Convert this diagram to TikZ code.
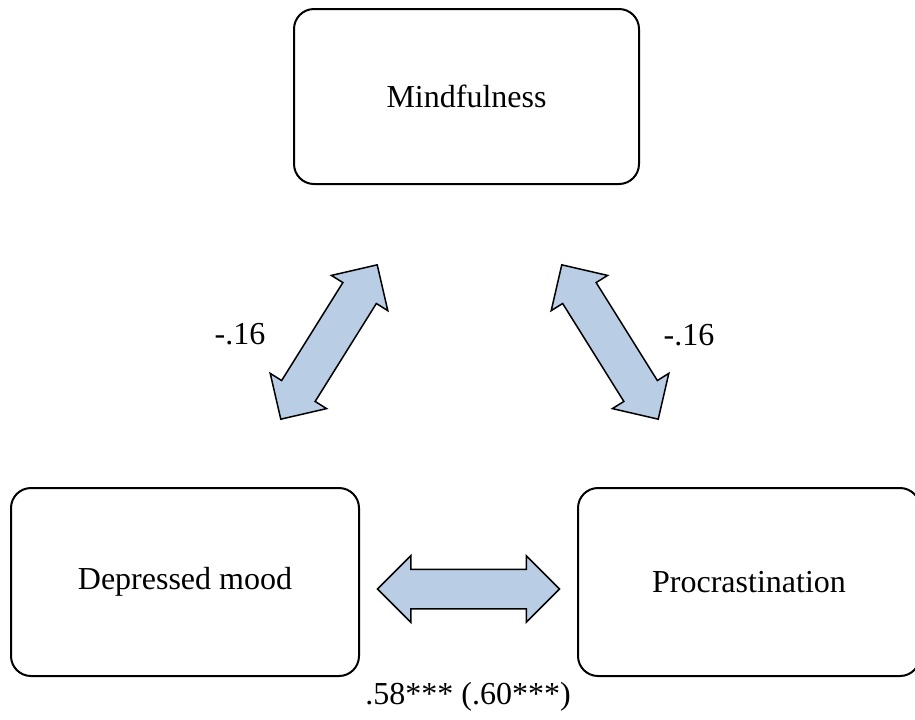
\documentclass[tikz,border=0pt]{standalone}
\usepackage{fontspec}
\setmainfont{Liberation Serif}
\usetikzlibrary{shapes.arrows}

\definecolor{arrowblue}{RGB}{185,205,229}

\begin{document}
\begin{tikzpicture}[x=0.5pt,y=-0.5pt,
  every node/.style={font=\fontsize{16}{19}\selectfont},
  varbox/.style={draw, line width=1pt, rounded corners=10pt, inner sep=0pt, minimum width=#1},
  linkarrow/.style={double arrow, draw, line width=0.75pt, fill=arrowblue,
    minimum height=91pt, minimum width=32.5pt, inner sep=9.5pt,
    double arrow head extend=6.75pt}]
\useasboundingbox (0,0) rectangle (915,719);

% the three variables
\node[varbox=172.5pt, minimum height=87.5pt] (mind) at (466.5,96.5) {Mindfulness};
\node[varbox=174pt, minimum height=94pt] (dep) at (185,582) {Depressed mood};
\node[varbox=171pt, minimum height=94pt] (proc) at (749,582) {Procrastination};

% correlations
\node[linkarrow, rotate=58] (mindDep) at (329,342) {};
\node[linkarrow, rotate=-58] (mindProc) at (610,342) {};
\node[linkarrow] (depProc) at (468.5,589) {};

\node (lblDep) at (240,334) {-.16};
\node (lblProc) at (689,335) {-.16};
\node (lblBottom) at (468,697) {.58*** (.60***)};
\end{tikzpicture}
\end{document}
